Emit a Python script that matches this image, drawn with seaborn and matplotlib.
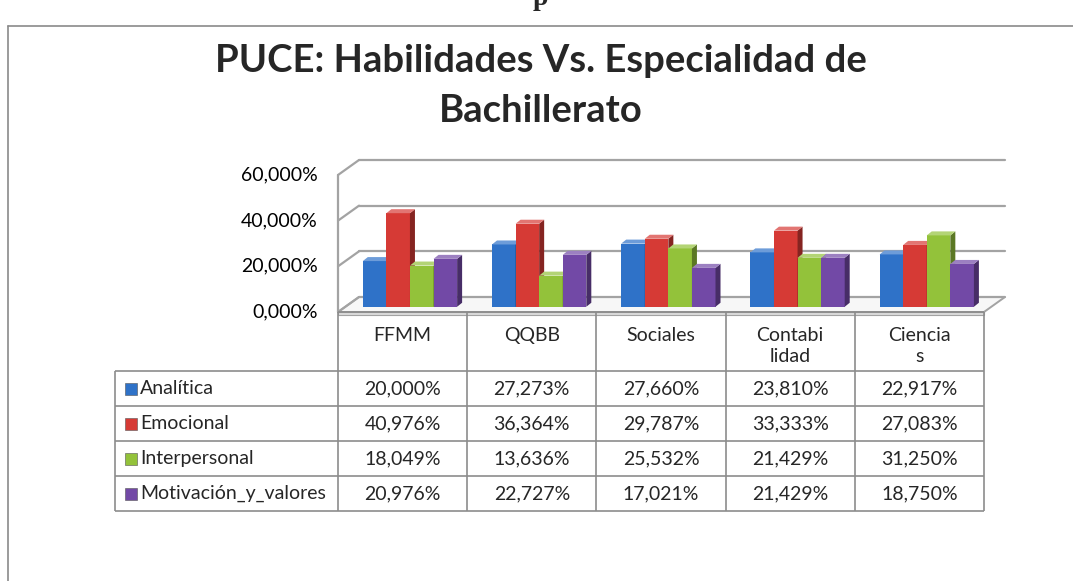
import pandas as pd
import seaborn as sns
import matplotlib.pyplot as plt
from matplotlib.patches import Polygon
from matplotlib.lines import Line2D
from matplotlib.transforms import IdentityTransform

# Data
categories = ["FFMM", "QQBB", "Sociales", "Contabilidad", "Ciencias"]
header_labels = ["FFMM", "QQBB", "Sociales", "Contabi\nlidad", "Ciencia\ns"]
series = ["Analítica", "Emocional", "Interpersonal", "Motivación_y_valores"]
analitica = [20.000, 27.273, 27.660, 23.810, 22.917]
emocional = [40.976, 36.364, 29.787, 33.333, 27.083]
interpersonal = [18.049, 13.636, 25.532, 21.429, 31.250]
motivacion = [20.976, 22.727, 17.021, 21.429, 18.750]
y_ticks = [0, 20, 40, 60]
colors = ["#2F72C8", "#D63A35", "#93C23A", "#7249A6"]

values = [analitica, emocional, interpersonal, motivacion]
df = pd.DataFrame({
    "Especialidad": categories * len(series),
    "Habilidad": [s for s in series for _ in categories],
    "Valor": [v for row in values for v in row],
})

W, H, DPI = 1073, 581, 100
sns.set_theme(style="white")
plt.rcParams['font.family'] = ['Lato', 'DejaVu Sans']

fig = plt.figure(figsize=(W / DPI, H / DPI), dpi=DPI)


def rect(x0, y0, x1, y1):
    # pixel box (top-left origin) -> figure fraction
    return [x0 / W, 1 - y1 / H, (x1 - x0) / W, (y1 - y0) / H]


# 3D box geometry in pixels: back wall, and shift from back wall to front edge
back_x0, back_x1 = 359, 1005
back_y0, back_y60 = 297, 160
depth_dx, depth_dy = -21, 15
bar_t = 0.65  # depth of bar front faces (0 = back, 1 = front)

bx0 = back_x0 + bar_t * depth_dx
ax = fig.add_axes(rect(bx0, back_y60 + bar_t * depth_dy,
                       bx0 + (back_x1 - back_x0), back_y0 + bar_t * depth_dy))

sns.barplot(data=df, x="Especialidad", y="Valor", hue="Habilidad",
            order=categories, hue_order=series, palette=colors,
            width=0.73, saturation=1, linewidth=0, errorbar=None,
            legend=False, ax=ax)
ax.set_xlim(-0.5, len(categories) - 0.5)
ax.set_ylim(0, 60)
ax.axis('off')

ident = IdentityTransform()


def P(x, y, t):
    px, py = ax.transData.transform((x, y))
    return (px + (t - bar_t) * depth_dx, py - (t - bar_t) * depth_dy)


def add_poly(pts, z, **kw):
    ax.add_patch(Polygon(pts, closed=True, transform=ident, clip_on=False,
                         zorder=z, **kw))


def add_line(a, b, z, **kw):
    ax.add_line(Line2D([a[0], b[0]], [a[1], b[1]], transform=ident,
                       clip_on=False, zorder=z, **kw))


xl, xr = -0.5, len(categories) - 0.5
grid_c = "#A3A3A3"

# floor
floor = [P(xl, 0, 0), P(xr, 0, 0), P(xr, 0, 1), P(xl, 0, 1)]
add_poly(floor, 1, facecolor="#F7F7F7", edgecolor=grid_c, linewidth=1.4)
fl, fr = P(xl, 0, 1), P(xr, 0, 1)
slab = [fl, fr, (fr[0], fr[1] - 3), (fl[0], fl[1] - 3)]
add_poly(slab, 1.1, facecolor="#DCDCDC", edgecolor=grid_c, linewidth=0.8)

# back wall gridlines + left wall diagonals
for t in y_ticks:
    a, b = P(xl, t, 0), P(xr, t, 0)
    add_line(a, b, 1.5, color=grid_c, lw=1.6)
    c = P(xl, t, 1)
    add_line(c, a, 1.5, color=grid_c, lw=1.6)
    fig.text((c[0] - 20) / W, c[1] / H, f"{t},000%",
             ha='right', va='center', fontsize=14, color="black")
add_line(P(xl, 0, 1), P(xl, 60, 1), 1.5, color=grid_c, lw=1.6)

# give bars side and top faces
bd_x, bd_y = 5, 4
bars = sorted(ax.patches[:len(categories) * len(series)], key=lambda p: p.get_x())
for k, p in enumerate(bars):
    z = 3 + k * 0.01
    p.set_zorder(z)
    x0, w, h = p.get_x(), p.get_width(), p.get_height()
    X0, Y0 = ax.transData.transform((x0, 0))
    X1, Y1 = ax.transData.transform((x0 + w, h))
    r, g, b_, _ = p.get_facecolor()
    side_c = (r * 0.62, g * 0.62, b_ * 0.62)
    top_c = (r + (1 - r) * 0.3, g + (1 - g) * 0.3, b_ + (1 - b_) * 0.3)
    add_poly([(X1, Y0), (X1, Y1), (X1 + bd_x, Y1 + bd_y), (X1 + bd_x, Y0 + bd_y)],
             z, facecolor=side_c, linewidth=0)
    add_poly([(X0, Y1), (X1, Y1), (X1 + bd_x, Y1 + bd_y), (X0 + bd_x, Y1 + bd_y)],
             z, facecolor=top_c, linewidth=0)

# data table
front_x0 = back_x0 + depth_dx
col_w = (back_x1 - back_x0) / len(categories)
tab_left = 115
x_left = xl - (front_x0 - tab_left) / col_w
ax_tab = fig.add_axes(rect(tab_left, back_y0 + depth_dy, front_x0 + (back_x1 - back_x0), 511))
head_h = 1.7
n_rows = len(series)
ax_tab.set_xlim(x_left, xr)
ax_tab.set_ylim(head_h + n_rows, 0)
ax_tab.axis('off')

line_c = "#8C8C8C"
ax_tab.vlines([i - 0.5 for i in range(len(categories) + 1)], 0, head_h + n_rows,
              color=line_c, lw=1.2, clip_on=False)
ax_tab.vlines(x_left, head_h, head_h + n_rows, color=line_c, lw=1.2, clip_on=False)
ax_tab.hlines(0, xl, xr, color=line_c, lw=1.2, clip_on=False)
ax_tab.hlines([head_h + r for r in range(n_rows + 1)], x_left, xr,
              color=line_c, lw=1.2, clip_on=False)

for i, lab in enumerate(header_labels):
    ax_tab.text(i, 0.43, lab, ha='center', va='top', fontsize=14, linespacing=1.3)

for r, (name, row, col) in enumerate(zip(series, values, colors)):
    yc = head_h + r + 0.5
    ax_tab.plot([x_left + 16 / col_w], [yc], marker='s', markersize=8,
                color=col, markeredgecolor="#555555", markeredgewidth=0.4,
                clip_on=False)
    ax_tab.text(x_left + 25 / col_w, yc, name, ha='left', va='center', fontsize=14)
    for i, v in enumerate(row):
        ax_tab.text(i, yc, f"{v:.3f}".replace(".", ",") + "%",
                    ha='center', va='center', fontsize=14)

# title
fig.text(541 / W, 1 - 72 / H, "PUCE: Habilidades Vs. Especialidad de",
         ha='center', va='baseline', fontsize=27.5, fontweight='bold')
fig.text(541 / W, 1 - 122 / H, "Bachillerato",
         ha='center', va='baseline', fontsize=27.5, fontweight='bold')

# page frame and clipped heading above it
frame_y = 1 - 26 / H
fig.add_artist(Line2D([8 / W, 8 / W], [0, frame_y], color="#8A8A8A", lw=1.2))
fig.add_artist(Line2D([8 / W, 1], [frame_y, frame_y], color="#8A8A8A", lw=1.2))
fig.text(540 / W, 1 - 5 / H, "p", family=['Liberation Serif', 'DejaVu Serif'],
         fontweight='bold', fontsize=20, ha='center', va='baseline')

fig.savefig("out.png", dpi=DPI)
